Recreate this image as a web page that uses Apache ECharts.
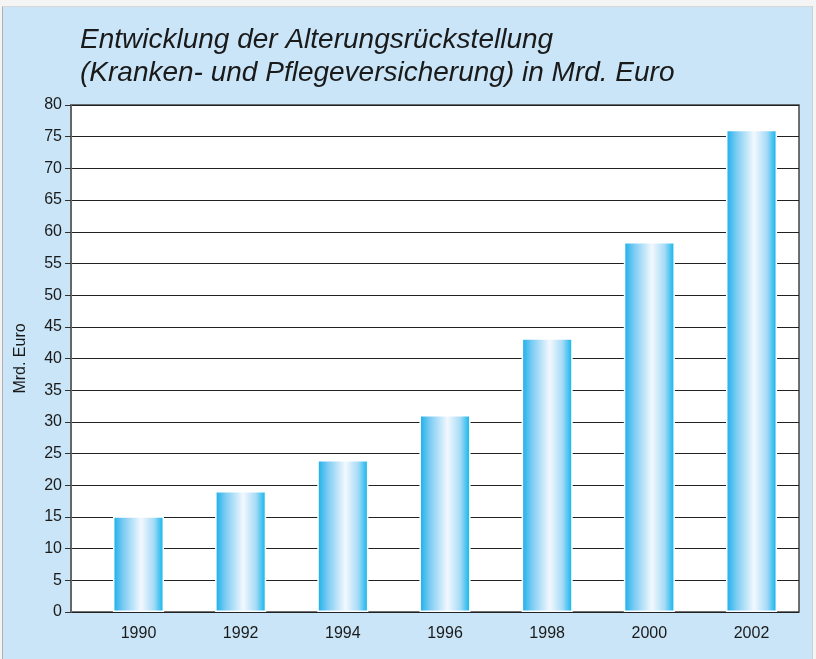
<!DOCTYPE html>
<html>
<head>
<meta charset="utf-8">
<script src="https://cdn.jsdelivr.net/npm/echarts@6/dist/echarts.min.js"></script>
<style>
html,body{margin:0;padding:0;background:#f4f4f4;}
#frame{position:absolute;left:2px;top:6px;width:809px;height:653px;background:#c9e5f7;border-left:1px solid #b0b0b0;border-top:1px solid #d8d8d8;border-right:1px solid #d0d0d0;}
#main{position:absolute;left:0;top:0;width:816px;height:659px;}
</style>
</head>
<body>
<div id="frame"></div>
<div id="main"></div>
<script>
var years = ['1990','1992','1994','1996','1998','2000','2002'];
var values = [15.1, 19.1, 24.0, 31.1, 43.2, 58.4, 76.1];
var yMin = 0, yMax = 80, yStep = 5;
var titleText = 'Entwicklung der Alterungsrückstellung\n(Kranken- und Pflegeversicherung) in Mrd. Euro';
var yName = 'Mrd. Euro';

var chart = echarts.init(document.getElementById('main'), null, {renderer:'canvas'});
var barGrad = new echarts.graphic.LinearGradient(0,0,1,0,[
  {offset:0, color:'#14aee9'},
  {offset:0.2, color:'#7acbf3'},
  {offset:0.55, color:'#f3f8fe'},
  {offset:0.8, color:'#a6dbf6'},
  {offset:1, color:'#03b2ec'}
]);
chart.setOption({
  backgroundColor:'transparent',
  animation:false,
  title:{
    text:titleText, left:75, top:19,
    textStyle:{fontFamily:'Liberation Sans Narrow, Liberation Sans, sans-serif', fontStyle:'italic', fontWeight:'normal', fontSize:28, lineHeight:33, color:'#1a1a1a'}
  },
  grid:[
    {left:71, right:17, top:105, bottom:47, show:true, backgroundColor:'#ffffff', borderColor:'#444', borderWidth:1.5},
    {left:87.4, right:13.4, top:105, bottom:47}
  ],
  xAxis:[
    {gridIndex:0, type:'category', data:years, show:false},
    {gridIndex:1, type:'category', data:years, axisLine:{show:false}, axisTick:{show:false},
     axisLabel:{color:'#1a1a1a', fontSize:16, fontFamily:'Liberation Sans, sans-serif', margin:14}}
  ],
  yAxis:[
    {gridIndex:0, type:'value', min:yMin, max:yMax, interval:yStep,
     name:yName, nameLocation:'middle', nameGap:42, nameRotate:90,
     nameTextStyle:{color:'#1a1a1a', fontSize:16, fontFamily:'Liberation Sans, sans-serif'},
     axisLine:{show:true, lineStyle:{color:'#666', width:2}},
     axisTick:{show:true, length:6, lineStyle:{color:'#333'}},
     axisLabel:{color:'#1a1a1a', fontSize:16, fontFamily:'Liberation Sans, sans-serif', margin:9},
     splitLine:{show:true, lineStyle:{color:'#222', width:1}}},
    {gridIndex:1, type:'value', min:yMin, max:yMax, interval:yStep, show:false}
  ],
  series:[{
    type:'bar', xAxisIndex:1, yAxisIndex:1, data:values, barWidth:'50%',
    itemStyle:{color:barGrad, borderColor:'#ffffff', borderWidth:1.5}
  }]
});
</script>
</body>
</html>
